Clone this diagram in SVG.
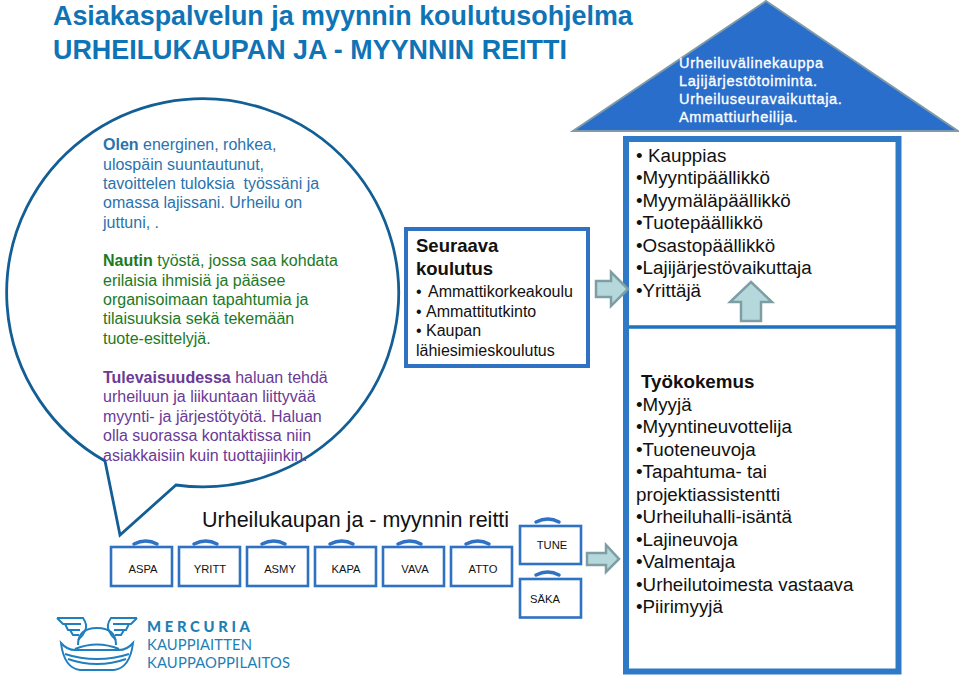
<svg xmlns="http://www.w3.org/2000/svg" width="959" height="678" viewBox="0 0 959 678">
<style>
text{font-family:"Liberation Sans",Arial,sans-serif}
.title{font-size:26.900px;font-weight:700;fill:#0f74b5}
.bub{font-size:16px;white-space:pre}
.b{fill:#2a73ad}.g{fill:#1b7a1f}.p{fill:#6a3a96}
.bx{fill:#fff;stroke:#2f72c4;stroke-width:2.6}
.hd{fill:none;stroke:#2f72c4;stroke-width:3.5;stroke-linecap:round}
.lb{font-size:11.2px;fill:#111;text-anchor:middle}
.arr{fill:#b5d8dc;stroke:#7f9ea3;stroke-width:2.5}
.rt{font-size:18.800px;fill:#111}
.sm{font-size:16px;fill:#111}
.hb{font-size:18.500px;font-weight:700;fill:#111}
.wh{font-size:14.500px;fill:#fff;letter-spacing:.7px;stroke:#fff;stroke-width:.35}
.lg{fill:none;stroke:#1f7fbf;stroke-width:2}
.lt{font-family:Lato,"Liberation Sans",sans-serif;font-size:14.800px;fill:#1f7fb4}
</style>
<rect width="959" height="678" fill="#fff"/>
<g id="title">
<text class="title" x="53" y="25">Asiakaspalvelun ja myynnin koulutusohjelma</text>
<text class="title" x="53" y="59">URHEILUKAUPAN JA - MYYNNIN REITTI</text>
</g>
<g id="bubble">
<path d="M105 461A196 194 0 1 1 176 485L120 535Z" fill="#fff" stroke="#135f95" stroke-width="2.8"/>
<text class="bub b" x="103" y="150"><tspan font-weight="700">Olen</tspan> energinen, rohkea,</text>
<text class="bub b" x="103" y="169.500">ulospäin suuntautunut,</text>
<text class="bub b" x="103" y="189">tavoittelen tuloksia  työssäni ja</text>
<text class="bub b" x="103" y="208">omassa lajissani. Urheilu on</text>
<text class="bub b" x="103" y="228">juttuni, .</text>
<text class="bub g" x="103" y="266"><tspan font-weight="700">Nautin</tspan> työstä, jossa saa kohdata</text>
<text class="bub g" x="103" y="286">erilaisia ihmisiä ja pääsee</text>
<text class="bub g" x="103" y="305">organisoimaan tapahtumia ja</text>
<text class="bub g" x="103" y="324">tilaisuuksia sekä tekemään</text>
<text class="bub g" x="103" y="344">tuote-esittelyjä.</text>
<text class="bub p" x="103" y="383"><tspan font-weight="700">Tulevaisuudessa</tspan> haluan tehdä</text>
<text class="bub p" x="103" y="402">urheiluun ja liikuntaan liittyvää</text>
<text class="bub p" x="103" y="422">myynti- ja järjestötyötä. Haluan</text>
<text class="bub p" x="103" y="441">olla suorassa kontaktissa niin</text>
<text class="bub p" x="103" y="461">asiakkaisiin kuin tuottajiinkin.</text>
</g>
<g id="next-training">
<rect x="406" y="229" width="182" height="137" fill="#fff" stroke="#2f72c4" stroke-width="4"/>
<text class="hb" x="416" y="252">Seuraava</text>
<text class="hb" x="416" y="275">koulutus</text>
<text class="sm" x="416" y="297">•</text>
<text class="sm" x="428" y="297">Ammattikorkeakoulu</text>
<text class="sm" x="416" y="317">•</text>
<text class="sm" x="426" y="317">Ammattitutkinto</text>
<text class="sm" x="416" y="336">•</text>
<text class="sm" x="426" y="336">Kaupan</text>
<text class="sm" x="416" y="356">lähiesimieskoulutus</text>
</g>
<g id="roof">
<polygon points="766,1 958,131 573,131" fill="#2a6ecb" stroke="#7f9aa8" stroke-width="2"/>
<text class="wh" x="679" y="68">Urheiluvälinekauppa</text>
<text class="wh" x="679" y="86">Lajijärjestötoiminta.</text>
<text class="wh" x="679" y="104">Urheiluseuravaikuttaja.</text>
<text class="wh" x="679" y="122">Ammattiurheilija.</text>
</g>
<g id="house">
<rect x="626" y="139" width="272.500" height="532.500" fill="#fff" stroke="#2f7ac6" stroke-width="6"/>
<line x1="629" y1="327" x2="896" y2="327" stroke="#1f72bd" stroke-width="3.500"/>
<text class="rt" x="636" y="162">•<tspan x="648">Kauppias</tspan></text>
<text class="rt" x="636" y="184">•Myyntipäällikkö</text>
<text class="rt" x="636" y="207">•Myymäläpäällikkö</text>
<text class="rt" x="636" y="229">•Tuotepäällikkö</text>
<text class="rt" x="636" y="252">•Osastopäällikkö</text>
<text class="rt" x="636" y="274">•Lajijärjestövaikuttaja</text>
<text class="rt" x="636" y="297">•Yrittäjä</text>
<text class="rt" x="641" y="388" font-weight="700">Työkokemus</text>
<text class="rt" x="636" y="411">•Myyjä</text>
<text class="rt" x="636" y="433">•Myyntineuvottelija</text>
<text class="rt" x="636" y="456">•Tuoteneuvoja</text>
<text class="rt" x="636" y="478">•Tapahtuma- tai</text>
<text class="rt" x="636" y="501">projektiassistentti</text>
<text class="rt" x="636" y="523">•Urheiluhalli-isäntä</text>
<text class="rt" x="636" y="546">•Lajineuvoja</text>
<text class="rt" x="636" y="568">•Valmentaja</text>
<text class="rt" x="636" y="591">•Urheilutoimesta vastaava</text>
<text class="rt" x="636" y="613">•Piirimyyjä</text>
</g>
<g id="route-heading"><text x="202" y="527" font-size="21.500" fill="#111">Urheilukaupan ja - myynnin reitti</text></g>
<g id="ASPA"><rect class="bx" x="111" y="547" width="61" height="39"/><path class="hd" d="M134 544Q146 538 157 544"/><text class="lb" x="143" y="572.500">ASPA</text></g>
<g id="YRITT"><rect class="bx" x="179" y="547" width="61" height="39"/><path class="hd" d="M194 544Q206 538 217 544"/><text class="lb" x="210" y="572.500">YRITT</text></g>
<g id="ASMY"><rect class="bx" x="247" y="547" width="61" height="39"/><path class="hd" d="M262 544Q274 538 285 544"/><text class="lb" x="280" y="572.500">ASMY</text></g>
<g id="KAPA"><rect class="bx" x="315" y="547" width="61" height="39"/><path class="hd" d="M330 544Q342 538 353 544"/><text class="lb" x="346" y="572.500">KAPA</text></g>
<g id="VAVA"><rect class="bx" x="383" y="547" width="61" height="39"/><path class="hd" d="M398 544Q410 538 421 544"/><text class="lb" x="415" y="572.500">VAVA</text></g>
<g id="ATTO"><rect class="bx" x="451" y="547" width="61" height="39"/><path class="hd" d="M466 544Q478 538 489 544"/><text class="lb" x="483" y="572.500">ATTO</text></g>
<g id="TUNE"><rect class="bx" x="520" y="526" width="61" height="38"/><path class="hd" d="M536 522Q548 516 559 522"/><text class="lb" x="552" y="549">TUNE</text></g>
<g id="SAKA"><rect class="bx" x="520" y="579" width="61" height="38.500"/><path class="hd" d="M536 575Q548 569 559 575"/><text class="lb" x="545" y="602.500">SÄKA</text></g>
<g id="connectors">
<polygon class="arr" points="596,281 611,281 611,272 628,289 611,306 611,297 596,297"/>
<polygon class="arr" points="587,553 606,553 606,545 619,559 606,572 606,565 587,565"/>
<polygon class="arr" points="751,282 772,302 761,302 761,321 741,321 741,302 730,302"/>
</g>
<g id="logo">
<path class="lg" d="M78 645Q78 628 97 628T116 645M75 649Q97 640 119 649"/>
<path class="lg" d="M61 643Q64 668 80 670H114Q130 668 133 643Q126 651 117 650H77Q68 651 61 643Z"/>
<path class="lg" stroke-width="1.500" d="M65 654Q80 659 97 659T129 654M68 659Q82 664 97 664T126 659"/>
<g id="wing-left"><path class="lg" d="M57 618H83Q88 625 85 631Q83 636 78 640M57 618L63 624H81M65 624L68 630H80M70 630L73 635H79"/></g>
<path class="lg" transform="translate(194 0) scale(-1 1)" d="M57 618H83Q88 625 85 631Q83 636 78 640M57 618L63 624H81M65 624L68 630H80M70 630L73 635H79"/>
<text class="lt" x="147" y="632" font-weight="900" textLength="103">MERCURIA</text>
<text class="lt" x="147" y="650" textLength="105">KAUPPIAITTEN</text>
<text class="lt" x="147" y="668" textLength="143">KAUPPAOPPILAITOS</text>
</g>
</svg>
